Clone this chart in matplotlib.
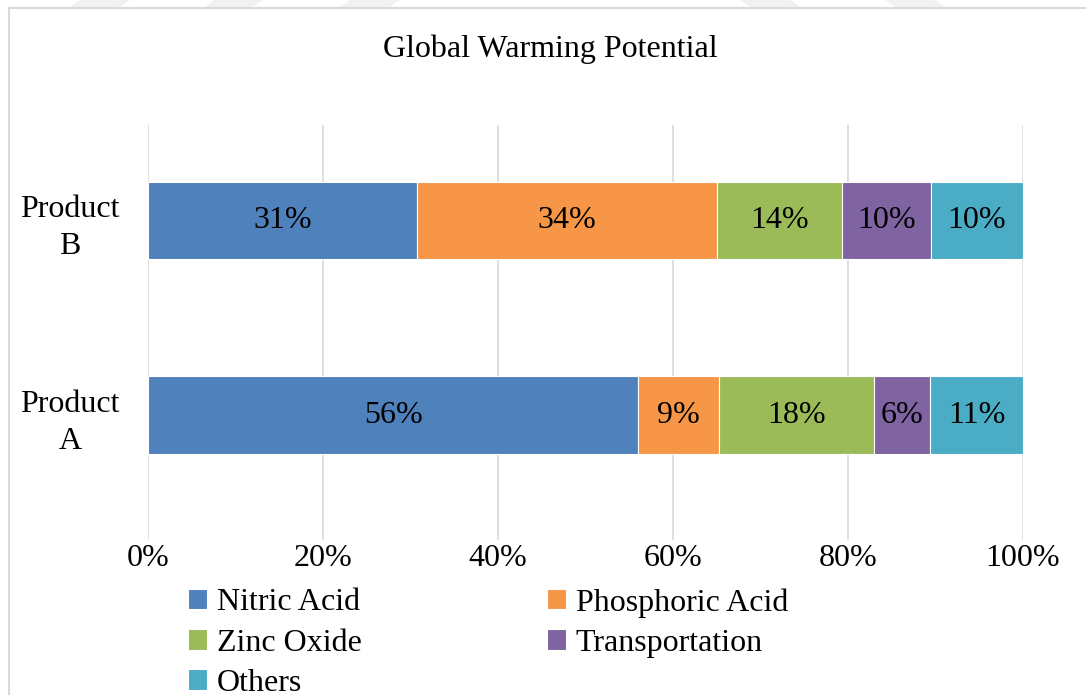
import numpy as np
import matplotlib.pyplot as plt
from matplotlib.patches import Rectangle, Polygon

plt.rcParams['font.family'] = ['Liberation Serif', 'DejaVu Serif']

products = ['Product\nA', 'Product\nB']
series = ['Nitric Acid', 'Phosphoric Acid', 'Zinc Oxide', 'Transportation', 'Others']
colors = ['#4F81BD', '#F79646', '#9BBB59', '#8064A2', '#4BACC6']
# shares in %, product A then product B
nitric = [56.0, 30.7]
phosphoric = [9.3, 34.3]
zinc = [17.7, 14.3]
transport = [6.4, 10.2]
others = [10.6, 10.5]

data = [nitric, phosphoric, zinc, transport, others]

W, H = 1086, 695
fig = plt.figure(figsize=(W/100, H/100), dpi=100)

# faint watermark stripes above the chart frame
for x0, x1, s in [(80, 130, -12), (215, 263, -12), (350, 400, -12),
                  (740, 790, 12), (885, 935, 12)]:
    pts = [(x0, 0), (x1, 0), (x1 + s, 8), (x0 + s, 8)]
    fig.patches.append(Polygon([(px/W, 1 - py/H) for px, py in pts],
                               closed=True, transform=fig.transFigure,
                               facecolor='#F1F1F1', edgecolor='none'))

# chart border
fig.patches.append(Rectangle((9/W, -0.01), 1.0, (H-8)/H + 0.01,
                             transform=fig.transFigure, fill=False,
                             edgecolor='#D9D9D9', linewidth=1.5))

ax = fig.add_axes([148/W, (H-540)/H, 875/W, 415/H])

y = np.arange(len(products))
left = np.zeros(len(products))
handles = []
for name, vals, c in zip(series, data, colors):
    vals = np.array(vals)
    b = ax.barh(y, vals, left=left, height=0.4, color=c, edgecolor='white',
                linewidth=0.8, label=name, zorder=3)
    handles.append(b)
    for yi, l, v in zip(y, left, vals):
        ax.text(l + v/2, yi, f'{round(v):.0f}%', ha='center', va='center',
                fontsize=23, color='black', zorder=4)
    left = left + vals

ax.set_xlim(0, 100)
ax.set_ylim(-0.64, 1.49)
ax.set_xticks(np.arange(0, 101, 20))
ax.set_xticklabels([f'{t}%' for t in range(0, 101, 20)], fontsize=23)
ax.set_yticks(y)
ax.set_yticklabels(products, fontsize=23, ha='center', linespacing=1.38)
ax.tick_params(axis='y', pad=56, length=0)
ax.tick_params(axis='x', length=0, pad=3)
ax.grid(axis='x', color='#D9D9D9', linewidth=1.2, zorder=0)
for s in ax.spines.values():
    s.set_visible(False)

fig.text(550/W, 1 - 49/H, 'Global Warming Potential', ha='center',
         va='center', fontsize=23)

order = [0, 2, 4, 1, 3]
leg = fig.legend([handles[i] for i in order], [series[i] for i in order],
                 ncol=2, loc='upper left', bbox_to_anchor=(188/W, 1 - 588/H),
                 frameon=False, fontsize=23, handlelength=0.6, handleheight=0.6,
                 handletextpad=0.3, columnspacing=5.8, labelspacing=0.35,
                 borderaxespad=0, borderpad=0)

fig.savefig('out.png', dpi=100)
